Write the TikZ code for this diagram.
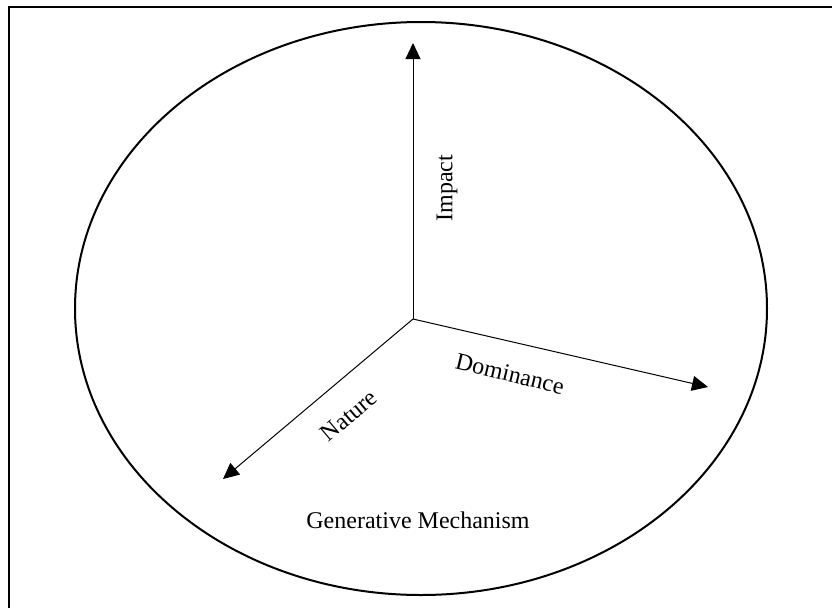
\documentclass[tikz,border=0pt]{standalone}
\usepackage{fontspec}
\setmainfont{Liberation Serif}
\usetikzlibrary{arrows.meta}
\tikzset{
  axis/.style={line width=0.5pt,-{Triangle[length=8pt,width=7.5pt]}},
  lab/.style={font=\fontsize{12}{14}\selectfont,inner sep=0pt}
}
\begin{document}
\begin{tikzpicture}[x=0.5pt,y=-0.5pt]
        \useasboundingbox (0,0) rectangle (832,607);
        \draw[line width=1.1pt](9,620)--(9,7)--(845,7);
        \draw[line width=1pt](421,308.5) ellipse (346 and 286.5);
        \coordinate (o) at (413,319);
        \foreach \n/\x/\y in {imp/413/43,
        dom/708/387,
        nat/223/479}{
            \coordinate (\n) at (\x,\y);
            \draw[axis](o)--(\n);
        }
        \node[lab,rotate=90] (impact) at (447,188) {Impact};
        \node[lab,rotate=-13.5] (dominance) at (510,374) {Dominance};
        \node[lab,rotate=40] (nature) at (349,416) {Nature};
        \node[lab,anchor=base] (genmech) at (418,528) {Generative Mechanism};
    \end{tikzpicture}
\end{document}
